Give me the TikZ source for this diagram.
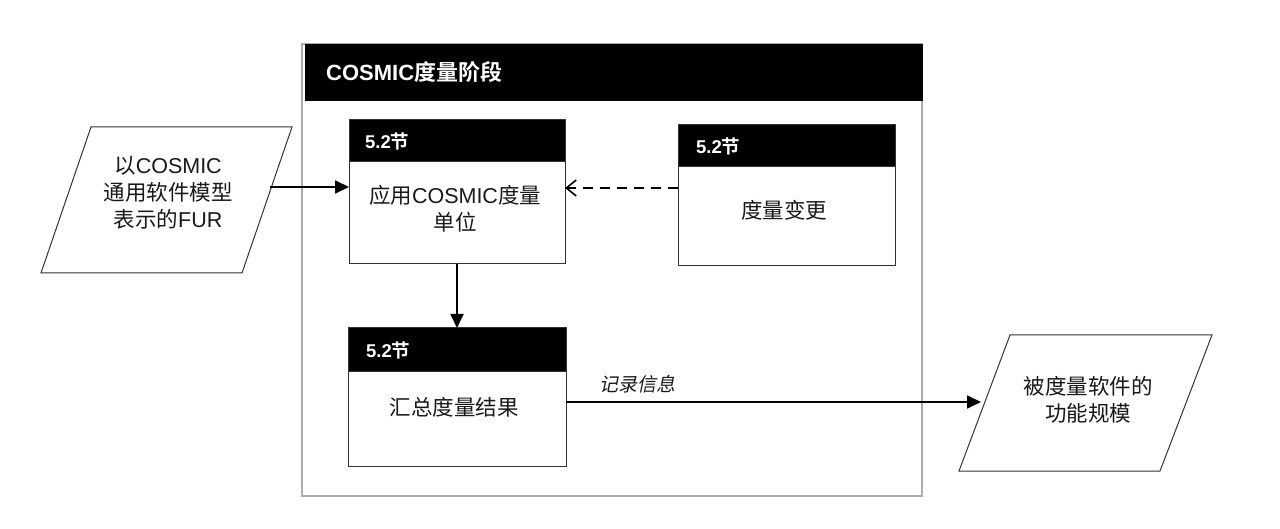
\documentclass[tikz,border=0pt]{standalone}
\usepackage{fontspec}
\setmainfont{Noto Sans CJK SC}[BoldFont={Noto Sans CJK SC Bold}]
\newfontfamily\lat{Liberation Sans}
\newfontfamily\slcjk{Noto Sans CJK SC}[FakeSlant=0.2]
\usetikzlibrary{arrows.meta}
\begin{document}
\begin{tikzpicture}[x=1pt,y=-1pt,
  frame/.style={draw=gray!65, line width=1.2pt, inner sep=0, outer sep=0},
  titlebar/.style={fill=black, draw=black, inner sep=0, outer sep=0},
  box/.style={draw=black!80, line width=1pt, fill=white, inner sep=0, outer sep=0},
  hbar/.style={draw=black!80, line width=1pt, fill=black, inner sep=0, outer sep=0},
  hlabel/.style={text=white, inner sep=0, anchor=west, font=\bfseries\fontsize{18.5}{22}\selectfont},
  body/.style={inner sep=0, align=center, text=black!90, font=\fontsize{21.5}{27}\selectfont},
  para/.style={draw=black!80, line width=1pt, fill=white},
  arr/.style={draw=black, line width=1.8pt, -{Triangle[length=14pt,width=13pt]}},
  darr/.style={draw=black, line width=1.6pt, dash pattern=on 10pt off 7pt, -{Straight Barb[length=10pt,width=16pt,line width=1.6pt]}},
  lbl/.style={inner sep=0, text=black!90, font=\slcjk\fontsize{19}{22}\selectfont}
]
\useasboundingbox (0,0) rectangle (1280,529);

% outer stage frame and title bar
\node[frame, minimum width=620, minimum height=452, anchor=north west] (F) at (302,44) {};
\node[titlebar, minimum width=617, minimum height=56, anchor=north west] (T) at (305,44) {};
\node[inner sep=0, anchor=west, text=white, font=\bfseries\fontsize{22}{26}\selectfont] (Tt) at (326,72) {{\lat\bfseries COSMIC}度量阶段};

% box A
\node[box, minimum width=216, minimum height=144] (A) at (457,192) {};
\node[hbar, minimum width=216, minimum height=42, anchor=north] (Ah) at (A.north) {};
\node[hlabel] (Al) at (365,141) {{\lat\bfseries 5.2}节};
\node[body] (At) at (455,208.5) {应用{\lat COSMIC}度量\\单位};

% box B
\node[box, minimum width=217, minimum height=141] (B) at (786.5,195.5) {};
\node[hbar, minimum width=217, minimum height=42, anchor=north] (Bh) at (B.north) {};
\node[hlabel] (Bl) at (696,146) {{\lat\bfseries 5.2}节};
\node[body] (Bt) at (784,210) {度量变更};

% box C
\node[box, minimum width=218, minimum height=138] (C) at (457,397) {};
\node[hbar, minimum width=218, minimum height=43, anchor=north] (Ch) at (C.north) {};
\node[hlabel] (Cl) at (366,350) {{\lat\bfseries 5.2}节};
\node[body] (Ct) at (454,407) {汇总度量结果};

% input parallelogram
\draw[para] (41,273) -- (91,127) -- (292,127) -- (242,273) -- cycle;
\node[body] (L) at (168,193) {以{\lat COSMIC}\\通用软件模型\\表示的{\lat FUR}};
\coordinate (Lo) at (270,187);

% output parallelogram
\draw[para] (959,471) -- (1010,335) -- (1212,335) -- (1160,471) -- cycle;
\node[body] (R) at (1088,400) {被度量软件的\\功能规模};
\coordinate (Ri) at (981,402);

% connectors
\draw[arr] (Lo) -- (Lo -| A.west);
\draw[darr] ([yshift=7.5pt]B.west) -- ([yshift=7.5pt]B.west -| A.east);
\draw[arr] (A.south) -- (C.north);
\draw[arr] (Ri -| C.east) -- (Ri);
\node[lbl] (lab) at (637,384) {记录信息};
\end{tikzpicture}
\end{document}
